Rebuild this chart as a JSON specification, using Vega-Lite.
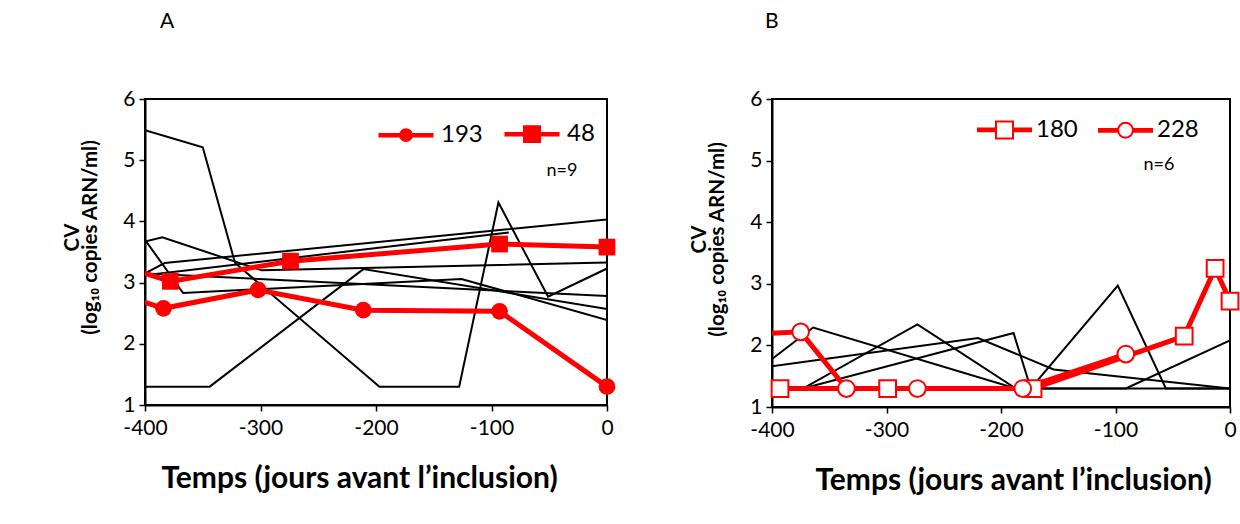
{
  "$schema": "https://vega.github.io/schema/vega-lite/v6.json",
  "padding": {"left": 61, "top": 10, "right": 5, "bottom": 5},
  "background": "white",
  "config": {
    "font": "Lato",
    "view": {"stroke": "black", "strokeWidth": 2},
    "axis": {
      "grid": false,
      "domainColor": "black",
      "domainWidth": 2,
      "tickColor": "black",
      "tickWidth": 1.5,
      "tickSize": 6,
      "labelFont": "Lato",
      "labelFontSize": 21,
      "labelColor": "black",
      "labelFlush": false,
      "titleFont": "Lato",
      "titleFontWeight": "bold",
      "titleColor": "black"
    },
    "title": {"font": "Lato", "fontSize": 21, "fontWeight": "normal", "color": "black", "anchor": "start", "frame": "group"}
  },
  "datasets": {
    "A": [
      {"id": "a1", "kind": "black", "x": -400, "y": 5.49},
      {"id": "a1", "kind": "black", "x": -350, "y": 5.21},
      {"id": "a1", "kind": "black", "x": -322, "y": 3.32},
      {"id": "a1", "kind": "black", "x": -197, "y": 1.3},
      {"id": "a1", "kind": "black", "x": -128, "y": 1.3},
      {"id": "a1", "kind": "black", "x": -94, "y": 4.31},
      {"id": "a1", "kind": "black", "x": -51, "y": 2.77},
      {"id": "a1", "kind": "black", "x": 0, "y": 3.23},
      {"id": "a2", "kind": "black", "x": -400, "y": 1.3},
      {"id": "a2", "kind": "black", "x": -344, "y": 1.3},
      {"id": "a2", "kind": "black", "x": -211, "y": 3.22},
      {"id": "a2", "kind": "black", "x": 0, "y": 2.57},
      {"id": "a3", "kind": "black", "x": -400, "y": 3.67},
      {"id": "a3", "kind": "black", "x": -385, "y": 3.74},
      {"id": "a3", "kind": "black", "x": -299, "y": 3.2},
      {"id": "a3", "kind": "black", "x": 0, "y": 3.33},
      {"id": "a4", "kind": "black", "x": -400, "y": 3.7},
      {"id": "a4", "kind": "black", "x": -367, "y": 2.83},
      {"id": "a4", "kind": "black", "x": -126, "y": 3.06},
      {"id": "a4", "kind": "black", "x": 0, "y": 2.39},
      {"id": "a5", "kind": "black", "x": -400, "y": 3.15},
      {"id": "a5", "kind": "black", "x": -383, "y": 3.32},
      {"id": "a5", "kind": "black", "x": 0, "y": 4.03},
      {"id": "a6", "kind": "black", "x": -400, "y": 3.15},
      {"id": "a6", "kind": "black", "x": 0, "y": 2.78},
      {"id": "a7", "kind": "black", "x": -400, "y": 3.12},
      {"id": "a7", "kind": "black", "x": -85, "y": 3.82},
      {"id": "193", "kind": "red", "x": -415, "y": 2.77},
      {"id": "193", "kind": "red", "x": -384, "y": 2.58},
      {"id": "193", "kind": "red", "x": -302, "y": 2.88},
      {"id": "193", "kind": "red", "x": -211, "y": 2.55},
      {"id": "193", "kind": "red", "x": -93, "y": 2.53},
      {"id": "193", "kind": "red", "x": 0, "y": 1.3},
      {"id": "48", "kind": "red", "x": -415, "y": 3.24},
      {"id": "48", "kind": "red", "x": -378, "y": 3.02},
      {"id": "48", "kind": "red", "x": -274, "y": 3.35},
      {"id": "48", "kind": "red", "x": -93, "y": 3.63},
      {"id": "48", "kind": "red", "x": 0, "y": 3.58}
    ],
    "B": [
      {"id": "b1", "kind": "black", "x": -400, "y": 1.78},
      {"id": "b1", "kind": "black", "x": -364, "y": 2.29},
      {"id": "b1", "kind": "black", "x": -187, "y": 1.3},
      {"id": "b1", "kind": "black", "x": -91, "y": 1.3},
      {"id": "b1", "kind": "black", "x": 0, "y": 2.08},
      {"id": "b2", "kind": "black", "x": -400, "y": 1.66},
      {"id": "b2", "kind": "black", "x": -220, "y": 2.12},
      {"id": "b2", "kind": "black", "x": -154, "y": 1.61},
      {"id": "b2", "kind": "black", "x": 0, "y": 1.3},
      {"id": "b3", "kind": "black", "x": -400, "y": 1.3},
      {"id": "b3", "kind": "black", "x": -373, "y": 1.3},
      {"id": "b3", "kind": "black", "x": -273, "y": 2.34},
      {"id": "b3", "kind": "black", "x": -187, "y": 1.3},
      {"id": "b3", "kind": "black", "x": 0, "y": 1.3},
      {"id": "b4", "kind": "black", "x": -400, "y": 1.3},
      {"id": "b4", "kind": "black", "x": -373, "y": 1.3},
      {"id": "b4", "kind": "black", "x": -189, "y": 2.2},
      {"id": "b4", "kind": "black", "x": -174, "y": 1.3},
      {"id": "b4", "kind": "black", "x": -98, "y": 2.97},
      {"id": "b4", "kind": "black", "x": -56, "y": 1.3},
      {"id": "b4", "kind": "black", "x": 0, "y": 1.3},
      {"id": "180", "kind": "red", "x": -393, "y": 1.3},
      {"id": "180", "kind": "red", "x": -299, "y": 1.3},
      {"id": "180", "kind": "red", "x": -172, "y": 1.3},
      {"id": "180", "kind": "red", "x": -40, "y": 2.15},
      {"id": "180", "kind": "red", "x": -13, "y": 3.25},
      {"id": "180", "kind": "red", "x": 0, "y": 2.72},
      {"id": "228", "kind": "red", "x": -420, "y": 2.18},
      {"id": "228", "kind": "red", "x": -375, "y": 2.22},
      {"id": "228", "kind": "red", "x": -335, "y": 1.3},
      {"id": "228", "kind": "red", "x": -273, "y": 1.3},
      {"id": "228", "kind": "red", "x": -181, "y": 1.3},
      {"id": "228", "kind": "red", "x": -91, "y": 1.86}
    ],
    "notes": [
      {"panel": "A", "x": -39, "y": 4.82, "label": "n=9"},
      {"panel": "B", "x": -62, "y": 4.93, "label": "n=6"}
    ]
  },
  "resolve": {"scale": {"shape": "independent", "x": "independent", "y": "independent"}, "legend": {"shape": "independent"}},
  "spacing": 71,
  "hconcat": [
    {
      "width": 462,
      "height": 306,
      "title": {"text": "A", "dx": 15, "offset": 56},
      "resolve": {"scale": {"shape": "independent"}, "legend": {"shape": "independent"}},
      "encoding": {
        "x": {"field": "x", "type": "quantitative", "scale": {"domain": [-400, 0], "nice": false, "zero": false},
              "axis": {"values": [-400, -300, -200, -100, 0], "labelExpr": "datum.value + ''", "title": "Temps (jours avant l’inclusion)", "titleFontSize": 30, "titlePadding": 25, "labelPadding": 6, "titleX": 214, "titleAlign": "center"}},
        "y": {"field": "y", "type": "quantitative", "scale": {"domain": [1, 6], "nice": false, "zero": false},
              "axis": {"values": [1, 2, 3, 4, 5, 6], "title": ["CV", "(log₁₀ copies ARN/ml)"], "titleFontSize": 20.5, "titleLineHeight": 18, "titlePadding": 22, "labelPadding": 4, "titleY": 138}}
      },
      "layer": [
        {
          "data": {"name": "A"},
          "transform": [{"filter": "datum.kind === 'black'"}],
          "mark": {"type": "line", "color": "black", "strokeWidth": 2, "clip": true},
          "encoding": {"detail": {"field": "id"}}
        },
        {
          "data": {"name": "A"},
          "transform": [{"filter": "datum.kind === 'red'"}],
          "mark": {"type": "line", "color": "#ff0000", "strokeWidth": 5, "clip": true},
          "encoding": {"detail": {"field": "id"}}
        },
        {
          "data": {"name": "A"},
          "transform": [{"filter": "datum.kind === 'red' && datum.x >= -400"}],
          "mark": {"type": "point", "filled": true, "color": "#ff0000", "opacity": 1, "size": 280},
          "encoding": {
            "shape": {"field": "id", "type": "nominal", "scale": {"domain": ["193", "48"], "range": ["circle", "square"]}, "legend": null}
          }
        },
        {
          "data": {"name": "A"},
          "transform": [{"filter": "datum.x < -1000"}],
          "mark": {"type": "point", "filled": false, "color": "#ff0000", "strokeWidth": 4.5, "opacity": 1, "size": 3025},
          "encoding": {
            "shape": {"field": "id", "type": "nominal",
              "scale": {"domain": ["193", "48"], "range": [
                "M-1,0H1M0.17,0A0.17,0.17,0,1,1,-0.17,0A0.17,0.17,0,1,1,0.17,0ZM0.09,0A0.09,0.09,0,1,1,-0.09,0A0.09,0.09,0,1,1,0.09,0ZM0.02,0A0.02,0.02,0,1,1,-0.02,0A0.02,0.02,0,1,1,0.02,0Z",
                "M-1,0H1M-0.245,-0.245H0.245V0.245H-0.245ZM-0.16,-0.16H0.16V0.16H-0.16ZM-0.08,-0.08H0.08V0.08H-0.08Z"]},
              "legend": {"orient": "none", "legendX": 231, "legendY": 5, "direction": "horizontal", "title": null,
                "labelFontSize": 24, "labelFont": "Lato", "labelColor": "black", "labelOffset": 5, "columnPadding": 12,
                "symbolSize": 3025, "symbolStrokeWidth": 4.5, "symbolStrokeColor": "#ff0000", "symbolOpacity": 1}}
          }
        },
        {
          "data": {"name": "notes"},
          "transform": [{"filter": "datum.panel === 'A'"}],
          "mark": {"type": "text", "fontSize": 18, "font": "Lato", "color": "black"},
          "encoding": {"text": {"field": "label"}}
        }
      ]
    },
    {
      "width": 458,
      "height": 308,
      "title": {"text": "B", "dx": -7, "offset": 56},
      "resolve": {"scale": {"shape": "independent"}, "legend": {"shape": "independent"}},
      "encoding": {
        "x": {"field": "x", "type": "quantitative", "scale": {"domain": [-400, 0], "nice": false, "zero": false},
              "axis": {"values": [-400, -300, -200, -100, 0], "labelExpr": "datum.value + ''", "title": "Temps (jours avant l’inclusion)", "titleFontSize": 30, "titlePadding": 25, "labelPadding": 6, "titleX": 241, "titleAlign": "center"}},
        "y": {"field": "y", "type": "quantitative", "scale": {"domain": [1, 6], "nice": false, "zero": false},
              "axis": {"values": [1, 2, 3, 4, 5, 6], "title": ["CV", "(log₁₀ copies ARN/ml)"], "titleFontSize": 20.5, "titleLineHeight": 18, "titlePadding": 22, "labelPadding": 4, "titleY": 140}}
      },
      "layer": [
        {
          "data": {"name": "B"},
          "transform": [{"filter": "datum.kind === 'black'"}],
          "mark": {"type": "line", "color": "black", "strokeWidth": 2, "clip": true},
          "encoding": {"detail": {"field": "id"}}
        },
        {
          "data": {"name": "B"},
          "transform": [{"filter": "datum.kind === 'red'"}],
          "mark": {"type": "line", "color": "#ff0000", "strokeWidth": 5, "clip": true},
          "encoding": {"detail": {"field": "id"}}
        },
        {
          "data": {"name": "B"},
          "transform": [{"filter": "datum.kind === 'red' && datum.x >= -400"}],
          "mark": {"type": "point", "filled": true, "fill": "white", "stroke": "#ff0000", "strokeWidth": 2, "opacity": 1, "size": 280},
          "encoding": {
            "shape": {"field": "id", "type": "nominal", "scale": {"domain": ["180", "228"], "range": ["square", "circle"]}, "legend": null}
          }
        },
        {
          "data": {"name": "B"},
          "transform": [{"filter": "datum.x < -1000"}],
          "mark": {"type": "point", "filled": false, "color": "#ff0000", "strokeWidth": 2, "opacity": 1, "size": 3025},
          "encoding": {
            "shape": {"field": "id", "type": "nominal",
              "scale": {"domain": ["180", "228"], "range": [
                "M-1,0H-0.31M0.31,0H1M-1,-0.05H-0.31M0.31,-0.05H1M-1,0.05H-0.31M0.31,0.05H1M-0.31,-0.31H0.31V0.31H-0.31Z",
                "M-1,0H-0.27M0.27,0H1M-1,-0.05H-0.265M0.265,-0.05H1M-1,0.05H-0.265M0.265,0.05H1M0.27,0A0.27,0.27,0,1,1,-0.27,0A0.27,0.27,0,1,1,0.27,0Z"]},
              "legend": {"orient": "none", "legendX": 204, "legendY": 2, "direction": "horizontal", "title": null,
                "labelFontSize": 24, "labelFont": "Lato", "labelColor": "black", "labelOffset": 3, "columnPadding": 16,
                "symbolSize": 3025, "symbolStrokeWidth": 2, "symbolStrokeColor": "#ff0000", "symbolOpacity": 1}}
          }
        },
        {
          "data": {"name": "notes"},
          "transform": [{"filter": "datum.panel === 'B'"}],
          "mark": {"type": "text", "fontSize": 18, "font": "Lato", "color": "black"},
          "encoding": {"text": {"field": "label"}}
        }
      ]
    }
  ]
}
